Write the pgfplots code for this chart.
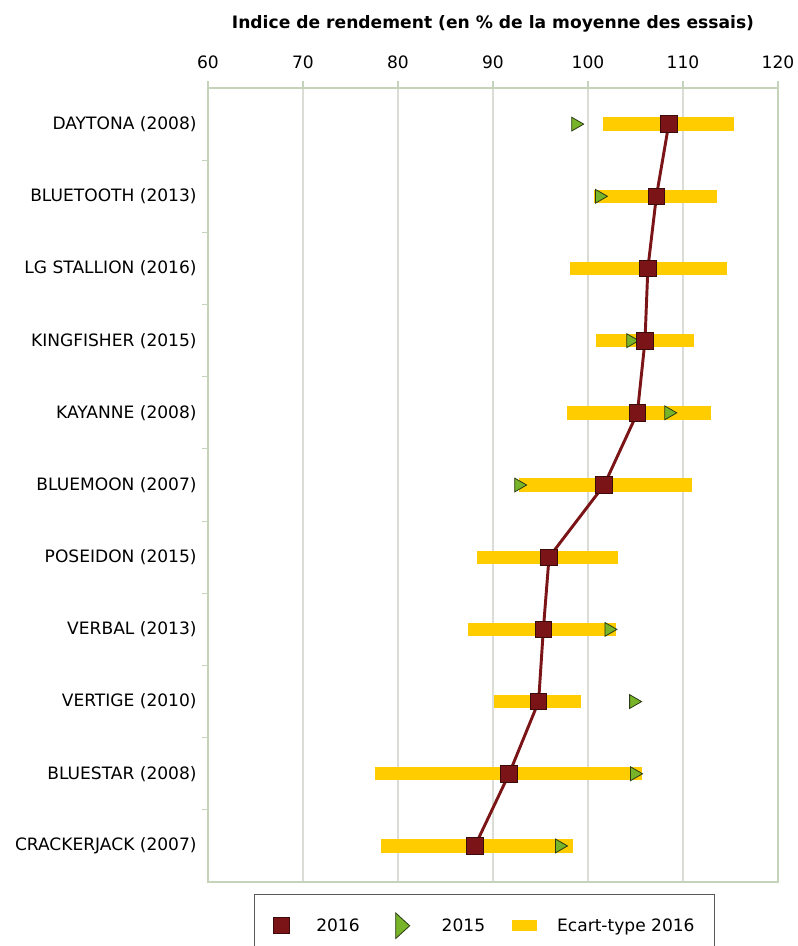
\documentclass[border=0pt]{standalone}
\usepackage{fontspec}
\setmainfont{DejaVu Sans}
\usepackage{pgfplots}
\usepackage{pgfplotstable}
\pgfplotsset{compat=1.18}

\definecolor{sq}{HTML}{7A1416}
\definecolor{sqedge}{HTML}{3B0A0A}
\definecolor{tri}{HTML}{78B42A}
\definecolor{triedge}{HTML}{2B3A12}
\definecolor{ecart}{HTML}{FFCC00}
\definecolor{gridc}{HTML}{DADDD6}
\definecolor{axc}{HTML}{C5D3BA}

% y = rang de la variete, s16 = indice 2016, lo/hi = ecart-type 2016, s15 = indice 2015
\pgfplotstableread{
y s16 lo hi s15
1 108.5 101.6 115.4 98.7
2 107.2 100.6 113.6 101.2
3 106.3 98.1 114.6 nan
4 106.0 100.8 111.2 104.5
5 105.2 97.8 112.9 108.5
6 101.7 92.7 110.9 92.7
7 95.9 88.3 103.2 nan
8 95.3 87.4 102.9 102.2
9 94.8 90.1 99.3 104.8
10 91.7 77.6 105.7 104.9
11 88.1 78.2 98.4 97.0
}\data

\begin{document}
\begin{tikzpicture}[font=\fontsize{12.8}{15}\selectfont]
\useasboundingbox (0,0) rectangle (597.75pt,-709.5pt);
\begin{axis}[
  at={(156pt,-66pt)}, anchor=north west,
  width=427.5pt, height=595.5pt, scale only axis,
  xmin=60, xmax=120, xtick={60,70,...,120},
  ymin=0.5, ymax=11.5, y dir=reverse,
  ytick={1,...,11},
  yticklabels={DAYTONA (2008),BLUETOOTH (2013),LG STALLION (2016),KINGFISHER (2015),KAYANNE (2008),BLUEMOON (2007),POSEIDON (2015),VERBAL (2013),VERTIGE (2010),BLUESTAR (2008),CRACKERJACK (2007)},
  minor ytick={1.5,2.5,...,10.5},
  xticklabel pos=upper, xtick pos=upper, ytick pos=left,
  tick align=outside,
  major tick length=5pt, minor tick length=4.5pt,
  major y tick style={draw=none},
  tick style={axc, line width=0.8pt},
  axis line style={axc, line width=1pt},
  xmajorgrids, grid style={gridc, line width=0.9pt},
  /pgf/number format/assume math mode=true,
  tick label style={font=\fontsize{12.8}{15}\selectfont},
  xticklabel style={yshift=6pt},
  title={\bfseries Indice de rendement (en \% de la moyenne des essais)},
  title style={at={(0.5,1)}, anchor=center, yshift=42pt, font=\fontsize{12.85}{15}\selectfont},
  legend style={at={(0.485,-0.0151)}, anchor=north, legend columns=3,
    draw=black!65, line width=0.9pt, inner sep=0pt,
    column sep=0pt, nodes={inner sep=0pt, anchor=base west}},
]
\addlegendimage{legend image code/.code={
  \path[draw=none, fill=none] (0,-18.75pt) rectangle (46.5pt,27.75pt);
  \draw[fill=sq, draw=sqedge, line width=0.6pt] (14.25pt,-1.6pt) rectangle (26.25pt,10.4pt);}}
\addlegendentry{2016}
\addlegendimage{legend image code/.code={
  \path[draw=none, fill=none] (0,0) rectangle (61.5pt,0);
  \draw[fill=tri, draw=triedge, line width=0.6pt] (27pt,-5.2pt) -- (37.5pt,4.4pt) -- (27pt,14pt) -- cycle;}}
\addlegendentry{2015}
\addlegendimage{legend image code/.code={
  \path[draw=none, fill=none] (0,0) rectangle (54pt,0);
  \fill[ecart] (20.25pt,0.6pt) rectangle (38.25pt,8.1pt);}}
\addlegendentry{Ecart-type 2016\hspace*{15pt}}

% ecart-type 2016
\addplot[forget plot, only marks, mark=none,
  error bars/.cd, x dir=both, x explicit, error mark=none,
  error bar style={ecart, line width=10pt}]
  table[x=s16, y=y, x error plus expr=\thisrow{hi}-\thisrow{s16},
        x error minus expr=\thisrow{s16}-\thisrow{lo}] {\data};
% 2015
\addplot[forget plot, only marks, mark=triangle*, mark size=6pt,
  mark options={rotate=-90, fill=tri, draw=triedge, line width=0.6pt}]
  table[x=s15, y=y] {\data};
% 2016
\addplot[forget plot, sq, line width=2.2pt, mark=square*, mark size=6.2pt,
  mark options={fill=sq, draw=sqedge, line width=0.6pt}]
  table[x=s16, y=y] {\data};
\end{axis}
\end{tikzpicture}
\end{document}
